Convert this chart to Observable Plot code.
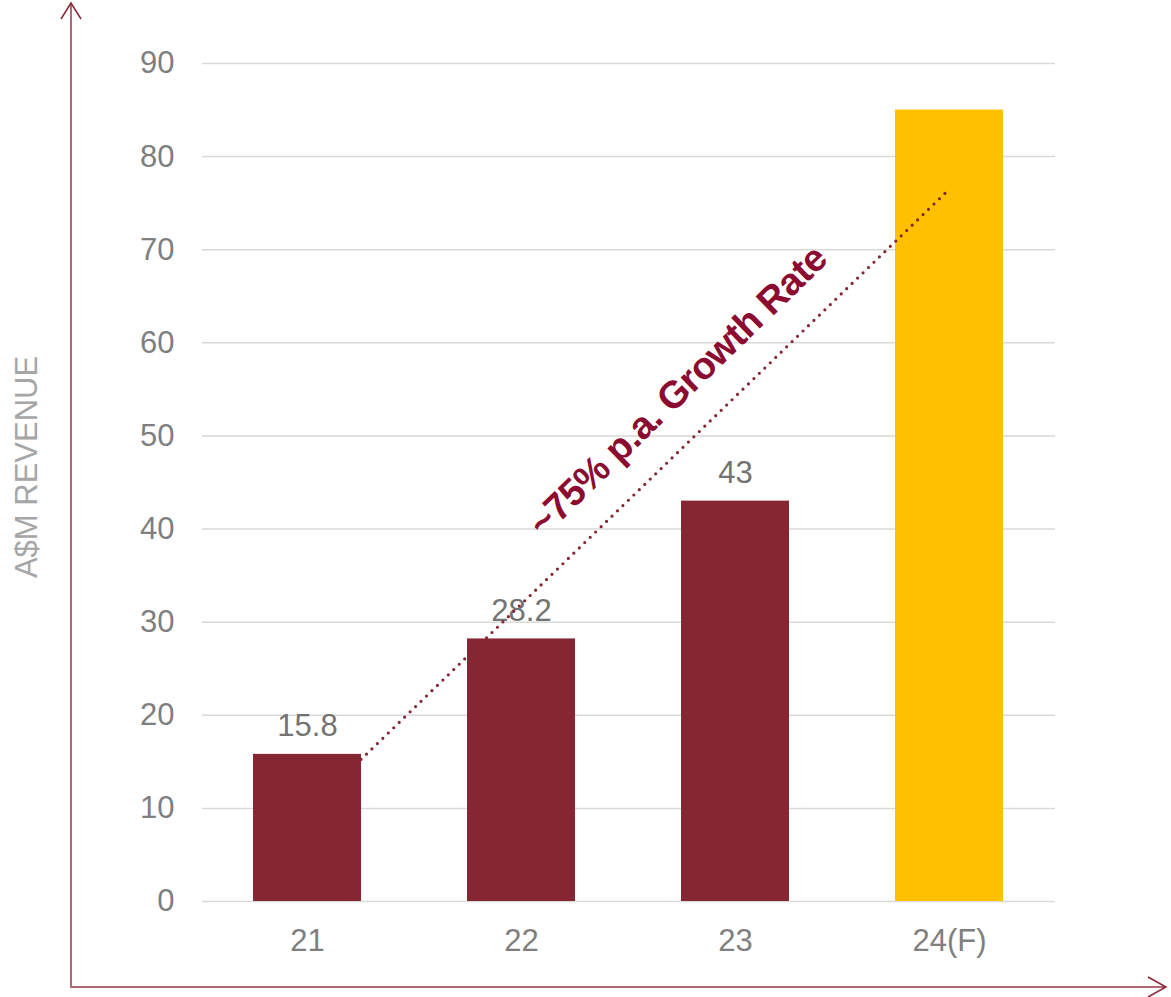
<!DOCTYPE html>
<html><head><meta charset="utf-8">
<script src="https://cdn.jsdelivr.net/npm/d3@7"></script>
<script src="https://cdn.jsdelivr.net/npm/@observablehq/plot@0.6"></script>
<style>body{margin:0;background:#fff}#chart svg{display:block}</style>
</head><body><div id="chart"></div>
<script>
// ---- data ----
const categories = ["21", "22", "23", "24(F)"];
const values = [15.8, 28.2, 43, 85];
const valueLabels = ["15.8", "28.2", "43", ""];
const barColors = ["#862633", "#862633", "#862633", "#FFC000"];
const yTicks = [0, 10, 20, 30, 40, 50, 60, 70, 80, 90];
const yAxisTitle = "A$M REVENUE";
const trendFrom = {cat: "21", value: 15.2};
const trendTo = {cat: "24(F)", value: 76};
const trendLabel = "~75% p.a. Growth Rate";

(function () {
const data = categories.map((c, i) => ({cat: c, value: values[i], label: valueLabels[i], color: barColors[i]}));

const W = 1171, H = 997;
const plot = Plot.plot({
  width: W, height: H,
  marginLeft: 202, marginRight: 116, marginTop: 63, marginBottom: 96,
  style: {fontFamily: "'Liberation Sans', Arial, sans-serif", fontSize: "31px", color: "#7f7f7f", background: "#fff"},
  x: {domain: categories, paddingInner: 0.495, paddingOuter: 0.24, label: null, tickSize: 0, tickPadding: 27},
  y: {domain: [0, 90], ticks: yTicks, label: null, tickSize: 0, tickPadding: 28},
  color: {type: "identity"},
  marks: [
    Plot.ruleY(yTicks, {stroke: "#d9d9d9", strokeWidth: 1.5}),
    Plot.barY(data, {x: "cat", y: "value", fill: "color"}),
    Plot.text(data, {x: "cat", y: "value", text: "label", dy: -28, fill: "#737373", fontSize: 31})
  ]
});
document.getElementById("chart").appendChild(plot);

const svg = d3.select(plot);
const xs = plot.scale("x"), ys = plot.scale("y");
const bw = xs.bandwidth;

// axis arrows (decoration)
const axisG = svg.append("g");
const axL = 71, axB = 987, axT = 3, axR = 1166;
axisG.append("line").attr("x1", axL).attr("y1", axB + 1).attr("x2", axL).attr("y2", axT + 1)
  .attr("stroke", "#b06a75").attr("stroke-width", 2);
axisG.append("line").attr("x1", axL - 1).attr("y1", axB).attr("x2", axR - 1).attr("y2", axB)
  .attr("stroke", "#b06a75").attr("stroke-width", 2);
axisG.append("path").attr("d", `M${axL - 10},${axT + 16}L${axL},${axT}L${axL + 10},${axT + 16}`)
  .attr("fill", "none").attr("stroke", "#8b2535").attr("stroke-width", 1.5);
axisG.append("path").attr("d", `M${axR - 18},${axB - 10}L${axR},${axB}L${axR - 18},${axB + 10}`)
  .attr("fill", "none").attr("stroke", "#8b2535").attr("stroke-width", 1.5);

// y axis title
svg.append("text").attr("transform", `translate(37,467) rotate(-90)`)
  .attr("text-anchor", "middle").attr("fill", "#a6a6a6")
  .attr("font-family", "'Liberation Sans', Arial, sans-serif").attr("font-size", 31)
  .text(yAxisTitle);

// trend line
const x1 = xs.apply(trendFrom.cat) + bw, y1 = ys.apply(trendFrom.value);
const x2 = xs.apply(trendTo.cat) + bw / 2 - 4, y2 = ys.apply(trendTo.value);
svg.append("line").attr("x1", x1).attr("y1", y1).attr("x2", x2).attr("y2", y2)
  .attr("stroke", "#862633").attr("stroke-width", 3.2).attr("stroke-linecap", "round")
  .attr("stroke-dasharray", "0 7.6");

// trend annotation
const ang = Math.atan2(y2 - y1, x2 - x1);
const len = Math.hypot(x2 - x1, y2 - y1);
const t = 484 / len;
const px = x1 + (x2 - x1) * t, py = y1 + (y2 - y1) * t;
const nx = Math.sin(ang), ny = -Math.cos(ang);
const off = 42;
svg.append("text")
  .attr("transform", `translate(${px + nx * off},${py + ny * off}) rotate(${ang * 180 / Math.PI})`)
  .attr("text-anchor", "middle").attr("dy", "0.27em")
  .attr("fill", "#8c0b30").attr("font-weight", "bold")
  .attr("font-family", "'Liberation Sans', Arial, sans-serif").attr("font-size", 38)
  .attr("letter-spacing", "-0.6px")
  .text(trendLabel);
})();
</script>
</body></html>
